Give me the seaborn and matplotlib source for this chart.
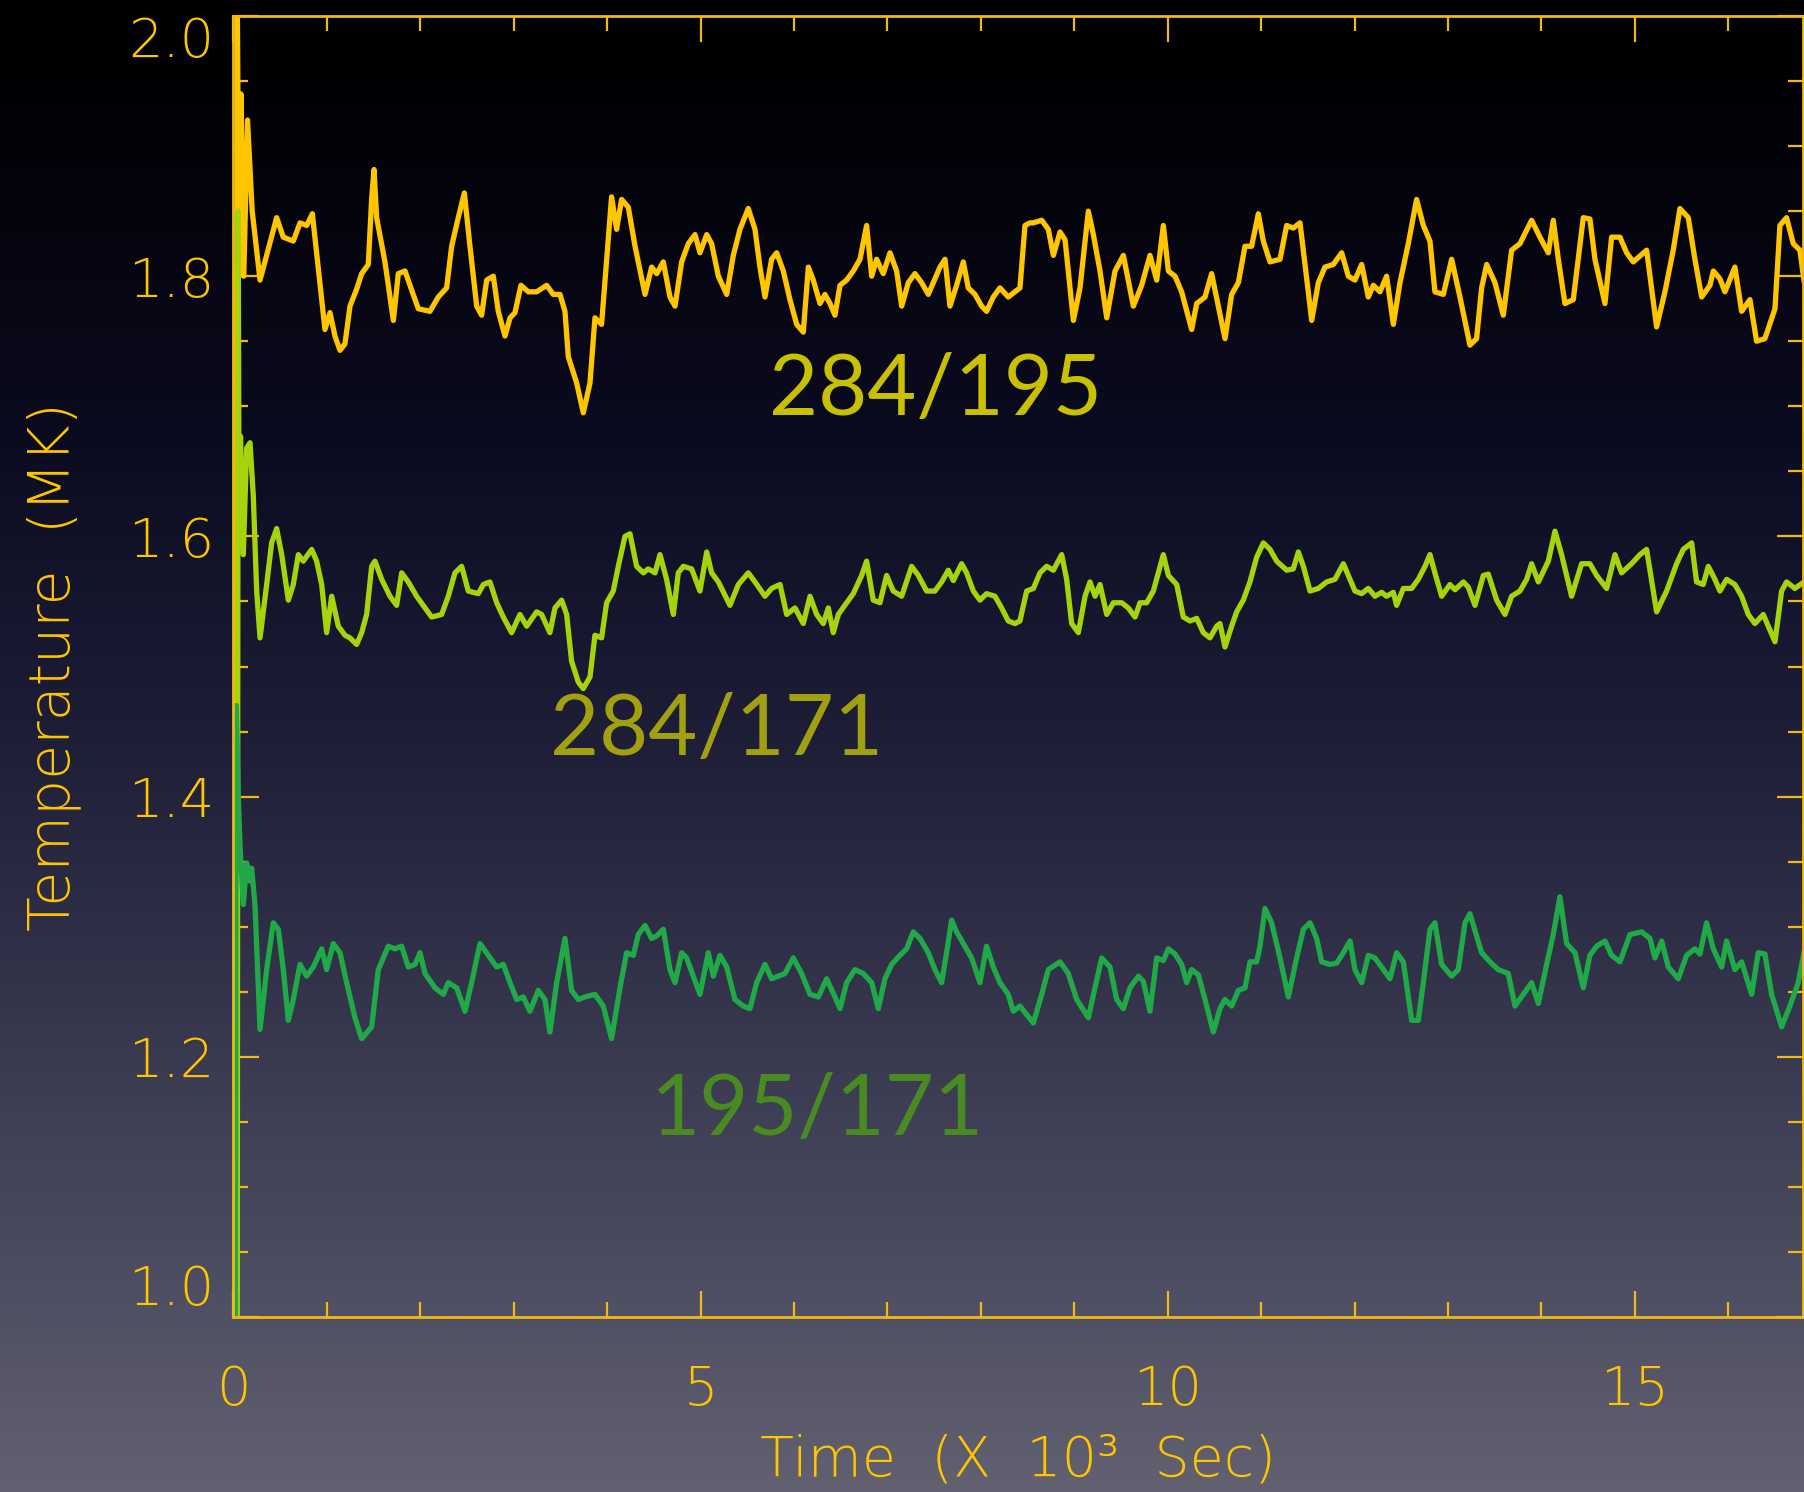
import numpy as np
import pandas as pd
import matplotlib
matplotlib.use("Agg")
import matplotlib.pyplot as plt
import seaborn as sns
from matplotlib.colors import LinearSegmentedColormap
from matplotlib.ticker import MultipleLocator

# ---------------- data ----------------
t_284_195 = [0.03, 0.04, 0.06, 0.08, 0.11, 0.15, 0.2, 0.284, 0.462, 0.533, 0.64, 0.712, 0.783, 0.844,
             0.979, 1.033, 1.086, 1.14, 1.193, 1.247, 1.318, 1.372, 1.443, 1.479, 1.504, 1.532, 1.621,
             1.711, 1.764, 1.836, 1.889, 1.978, 2.103, 2.192, 2.281, 2.335, 2.406, 2.471, 2.531, 2.603,
             2.656, 2.71, 2.781, 2.834, 2.906, 2.96, 3.013, 3.077, 3.156, 3.245, 3.352, 3.423, 3.495,
             3.548, 3.584, 3.673, 3.744, 3.816, 3.869, 3.94, 3.994, 4.047, 4.101, 4.154, 4.226,
             4.298, 4.405, 4.476, 4.53, 4.601, 4.672, 4.726, 4.797, 4.868, 4.94, 4.993, 5.065, 5.118,
             5.19, 5.279, 5.35, 5.421, 5.51, 5.582, 5.635, 5.689, 5.76, 5.814, 5.885, 5.956, 6.028,
             6.099, 6.153, 6.206, 6.278, 6.331, 6.385, 6.438, 6.492, 6.563, 6.634, 6.706, 6.777, 6.831,
             6.884, 6.955, 7.027, 7.098, 7.152, 7.223, 7.294, 7.366, 7.437, 7.491, 7.562, 7.616, 7.669,
             7.74, 7.812, 7.865, 7.937, 8.008, 8.061, 8.133, 8.204, 8.293, 8.365, 8.418, 8.472, 8.525,
             8.562, 8.651, 8.722, 8.776, 8.847, 8.901, 8.99, 9.061, 9.15, 9.204, 9.275, 9.347, 9.436,
             9.525, 9.632, 9.721, 9.81, 9.882, 9.953, 10.007, 10.078, 10.149, 10.256, 10.31, 10.399,
             10.47, 10.542, 10.613, 10.684, 10.756, 10.827, 10.898, 10.97, 11.023, 11.095, 11.202,
             11.273, 11.344, 11.416, 11.469, 11.541, 11.612, 11.683, 11.772, 11.862, 11.933, 12.004,
             12.076, 12.147, 12.201, 12.272, 12.343, 12.415, 12.486, 12.575, 12.664, 12.736, 12.807,
             12.86, 12.95, 13.039, 13.128, 13.235, 13.306, 13.36, 13.414, 13.503, 13.592, 13.681,
             13.77, 13.895, 13.984, 14.074, 14.127, 14.181, 14.252, 14.341, 14.448, 14.519, 14.573,
             14.68, 14.751, 14.841, 14.912, 14.983, 15.126, 15.233, 15.322, 15.411, 15.483, 15.572,
             15.643, 15.715, 15.804, 15.84, 15.911, 15.964, 16.071, 16.143, 16.232, 16.303, 16.392,
             16.5, 16.553, 16.624, 16.696, 16.767, 16.81]
v_284_195 = [1.0, 2.02, 1.80, 1.94, 1.80, 1.92, 1.85, 1.797, 1.845, 1.83, 1.827, 1.841, 1.839, 1.848,
             1.759, 1.772, 1.754, 1.743, 1.748, 1.777, 1.79, 1.802, 1.809, 1.86, 1.882, 1.845, 1.811,
             1.766, 1.802, 1.804, 1.793, 1.775, 1.773, 1.784, 1.791, 1.823, 1.845, 1.864, 1.823, 1.777,
             1.770, 1.797, 1.80, 1.773, 1.754, 1.768, 1.772, 1.793, 1.788, 1.788, 1.793, 1.786, 1.786,
             1.773, 1.738, 1.718, 1.695, 1.718, 1.768, 1.763, 1.813, 1.861, 1.836, 1.859, 1.853,
             1.823, 1.786, 1.807, 1.802, 1.811, 1.784, 1.777, 1.811, 1.825, 1.832, 1.818, 1.832, 1.825,
             1.80, 1.786, 1.816, 1.836, 1.852, 1.836, 1.807, 1.784, 1.813, 1.818, 1.804, 1.782, 1.763,
             1.757, 1.807, 1.797, 1.779, 1.786, 1.779, 1.77, 1.793, 1.797, 1.804, 1.813, 1.839, 1.80,
             1.813, 1.802, 1.818, 1.804, 1.777, 1.795, 1.802, 1.795, 1.786, 1.795, 1.807, 1.813, 1.777,
             1.793, 1.811, 1.791, 1.786, 1.777, 1.773, 1.784, 1.791, 1.784, 1.788, 1.791, 1.839, 1.841,
             1.841, 1.843, 1.836, 1.816, 1.834, 1.828, 1.766, 1.791, 1.85, 1.832, 1.804, 1.768, 1.804,
             1.816, 1.777, 1.793, 1.816, 1.797, 1.839, 1.804, 1.80, 1.788, 1.759, 1.779, 1.784,
             1.802, 1.777, 1.752, 1.786, 1.795, 1.823, 1.823, 1.848, 1.827, 1.811, 1.813,
             1.839, 1.837, 1.841, 1.809, 1.766, 1.795, 1.807, 1.809, 1.818, 1.80, 1.797,
             1.809, 1.784, 1.793, 1.788, 1.80, 1.763, 1.795, 1.825, 1.859, 1.839, 1.827,
             1.788, 1.786, 1.813, 1.784, 1.747, 1.752, 1.791, 1.809, 1.795, 1.770, 1.820,
             1.825, 1.843, 1.83, 1.818, 1.843, 1.813, 1.779, 1.782, 1.845, 1.844, 1.813,
             1.779, 1.83, 1.83, 1.818, 1.811, 1.820, 1.761, 1.788, 1.820, 1.852, 1.845,
             1.813, 1.784, 1.793, 1.804, 1.798, 1.788, 1.807, 1.773, 1.782, 1.75, 1.752,
             1.775, 1.839, 1.845, 1.825, 1.820, 1.797]

t_284_171 = [0.04, 0.05, 0.06, 0.075, 0.105, 0.141, 0.177, 0.212, 0.248, 0.284, 0.355, 0.408, 0.462,
             0.516, 0.587, 0.64, 0.694, 0.747, 0.837, 0.89, 0.944, 0.997, 1.051, 1.122, 1.193, 1.247,
             1.318, 1.372, 1.425, 1.479, 1.514, 1.586, 1.675, 1.746, 1.8, 1.871, 1.96, 2.05, 2.121,
             2.228, 2.299, 2.371, 2.442, 2.513, 2.62, 2.674, 2.745, 2.817, 2.888, 2.977, 3.066, 3.138,
             3.245, 3.298, 3.387, 3.441, 3.512, 3.566, 3.619, 3.691, 3.744, 3.816, 3.869, 3.94, 3.994,
             4.065, 4.119, 4.19, 4.244, 4.315, 4.387, 4.44, 4.512, 4.565, 4.636, 4.708, 4.761, 4.815,
             4.904, 4.993, 5.065, 5.118, 5.19, 5.314, 5.404, 5.51, 5.582, 5.689, 5.76, 5.85, 5.921,
             6.01, 6.099, 6.171, 6.242, 6.313, 6.367, 6.42, 6.474, 6.563, 6.634, 6.724, 6.777, 6.848,
             6.92, 6.991, 7.062, 7.152, 7.259, 7.33, 7.419, 7.508, 7.58, 7.651, 7.705, 7.794, 7.847,
             7.919, 7.99, 8.061, 8.151, 8.222, 8.293, 8.365, 8.418, 8.49, 8.562, 8.633, 8.704, 8.776,
             8.865, 8.918, 8.972, 9.043, 9.115, 9.168, 9.222, 9.275, 9.347, 9.418, 9.507, 9.578, 9.65,
             9.703, 9.775, 9.846, 9.9, 9.953, 10.007, 10.096, 10.167, 10.239, 10.31, 10.381, 10.452,
             10.524, 10.559, 10.613, 10.684, 10.738, 10.809, 10.88, 10.952, 11.023, 11.095, 11.166,
             11.273, 11.344, 11.398, 11.452, 11.523, 11.612, 11.701, 11.79, 11.88, 11.933, 12.004,
             12.076, 12.147, 12.218, 12.29, 12.343, 12.415, 12.45, 12.522, 12.611, 12.682, 12.754,
             12.807, 12.86, 12.932, 13.021, 13.075, 13.164, 13.217, 13.289, 13.378, 13.431, 13.521,
             13.61, 13.681, 13.77, 13.842, 13.895, 13.967, 14.074, 14.145, 14.216, 14.323, 14.43,
             14.519, 14.591, 14.698, 14.787, 14.858, 14.965, 15.055, 15.126, 15.233, 15.34, 15.447,
             15.518, 15.608, 15.661, 15.732, 15.786, 15.857, 15.911, 15.982, 16.071, 16.143, 16.214,
             16.285, 16.375, 16.428, 16.5, 16.571, 16.624, 16.713, 16.81]
v_284_171 = [1.0, 1.85, 1.60, 1.677, 1.586, 1.668, 1.672, 1.631, 1.558, 1.522, 1.563, 1.595, 1.606,
             1.586, 1.551, 1.563, 1.586, 1.581, 1.59, 1.581, 1.563, 1.526, 1.554, 1.531, 1.524, 1.522,
             1.517, 1.526, 1.54, 1.577, 1.581, 1.567, 1.554, 1.547, 1.572, 1.565, 1.554, 1.545, 1.538,
             1.54, 1.554, 1.572, 1.577, 1.558, 1.556, 1.563, 1.565, 1.549, 1.538, 1.526, 1.54, 1.531,
             1.542, 1.540, 1.526, 1.545, 1.551, 1.54, 1.504, 1.488, 1.483, 1.492, 1.524, 1.522, 1.549,
             1.558, 1.577, 1.60, 1.602, 1.577, 1.572, 1.575, 1.572, 1.586, 1.567, 1.54, 1.572, 1.577,
             1.575, 1.558, 1.588, 1.572, 1.565, 1.547, 1.563, 1.572, 1.565, 1.554, 1.56, 1.563, 1.54,
             1.545, 1.533, 1.554, 1.54, 1.533, 1.545, 1.526, 1.54, 1.549, 1.556, 1.57, 1.581, 1.551,
             1.549, 1.57, 1.558, 1.554, 1.577, 1.57, 1.558, 1.558, 1.565, 1.574, 1.566, 1.579, 1.572,
             1.558, 1.551, 1.556, 1.554, 1.545, 1.535, 1.533, 1.535, 1.558, 1.56, 1.572, 1.577, 1.574,
             1.586, 1.567, 1.533, 1.526, 1.554, 1.565, 1.554, 1.563, 1.54, 1.549, 1.549, 1.545, 1.538,
             1.549, 1.549, 1.558, 1.572, 1.586, 1.57, 1.563, 1.538, 1.535, 1.537, 1.526, 1.522,
             1.531, 1.533, 1.515, 1.531, 1.542, 1.551, 1.565, 1.584, 1.595, 1.59, 1.581,
             1.574, 1.575, 1.588, 1.577, 1.558, 1.56, 1.565, 1.567, 1.579, 1.57, 1.558,
             1.556, 1.56, 1.554, 1.557, 1.554, 1.557, 1.547, 1.56, 1.56, 1.567, 1.577,
             1.586, 1.572, 1.554, 1.563, 1.559, 1.565, 1.561, 1.547, 1.57, 1.571, 1.551,
             1.54, 1.554, 1.558, 1.567, 1.579, 1.565, 1.581, 1.604, 1.586, 1.554, 1.579,
             1.579, 1.57, 1.56, 1.586, 1.572, 1.579, 1.586, 1.59, 1.542, 1.558, 1.579,
             1.59, 1.595, 1.565, 1.563, 1.577, 1.567, 1.558, 1.567, 1.563, 1.554, 1.54,
             1.533, 1.54, 1.531, 1.519, 1.558, 1.565, 1.56, 1.565]

t_195_171 = [0.02, 0.03, 0.052, 0.07, 0.105, 0.141, 0.177, 0.194, 0.23, 0.284, 0.355, 0.426, 0.48,
             0.533, 0.587, 0.64, 0.712, 0.783, 0.854, 0.944, 0.997, 1.068, 1.14, 1.211, 1.3, 1.372,
             1.479, 1.55, 1.657, 1.728, 1.8, 1.871, 1.943, 1.996, 2.05, 2.157, 2.246, 2.299, 2.389,
             2.478, 2.549, 2.638, 2.727, 2.817, 2.888, 2.96, 3.031, 3.102, 3.173, 3.263, 3.334, 3.387,
             3.459, 3.548, 3.619, 3.691, 3.762, 3.869, 3.958, 4.047, 4.137, 4.208, 4.28, 4.333, 4.405,
             4.476, 4.53, 4.601, 4.672, 4.726, 4.797, 4.85, 4.922, 4.993, 5.082, 5.136, 5.207, 5.279,
             5.368, 5.457, 5.528, 5.6, 5.689, 5.76, 5.832, 5.903, 5.992, 6.081, 6.171, 6.26, 6.349,
             6.438, 6.492, 6.563, 6.652, 6.741, 6.831, 6.902, 6.973, 7.045, 7.134, 7.205, 7.276, 7.348,
             7.437, 7.508, 7.58, 7.633, 7.687, 7.74, 7.812, 7.901, 7.99, 8.061, 8.133, 8.204, 8.293,
             8.347, 8.418, 8.562, 8.651, 8.722, 8.847, 8.936, 9.026, 9.15, 9.222, 9.293, 9.382, 9.454,
             9.525, 9.596, 9.686, 9.739, 9.81, 9.882, 9.953, 10.007, 10.078, 10.149, 10.203, 10.256,
             10.328, 10.399, 10.488, 10.559, 10.613, 10.684, 10.756, 10.827, 10.881, 10.952, 10.988,
             11.041, 11.112, 11.202, 11.291, 11.38, 11.452, 11.523, 11.594, 11.648, 11.737, 11.808,
             11.88, 11.951, 12.004, 12.076, 12.147, 12.218, 12.308, 12.379, 12.45, 12.522, 12.611,
             12.682, 12.736, 12.807, 12.86, 12.932, 13.039, 13.11, 13.182, 13.235, 13.36, 13.449,
             13.538, 13.645, 13.717, 13.806, 13.895, 13.967, 14.056, 14.127, 14.198, 14.27, 14.359,
             14.448, 14.519, 14.591, 14.68, 14.751, 14.841, 14.948, 15.072, 15.162, 15.215, 15.287,
             15.358, 15.465, 15.554, 15.643, 15.697, 15.768, 15.84, 15.929, 15.982, 16.071, 16.143,
             16.25, 16.321, 16.392, 16.464, 16.571, 16.66, 16.749, 16.81]
v_195_171 = [1.0, 1.47, 1.40, 1.362, 1.317, 1.349, 1.335, 1.345, 1.317, 1.221, 1.267, 1.303, 1.298,
             1.267, 1.228, 1.244, 1.271, 1.262, 1.269, 1.283, 1.267, 1.287, 1.28, 1.257, 1.23, 1.214,
             1.223, 1.267, 1.285, 1.283, 1.285, 1.269, 1.271, 1.28, 1.264, 1.253, 1.248, 1.257, 1.253,
             1.235, 1.257, 1.287, 1.278, 1.269, 1.271, 1.257, 1.244, 1.246, 1.235, 1.251, 1.244, 1.219,
             1.257, 1.291, 1.251, 1.244, 1.246, 1.248, 1.239, 1.214, 1.253, 1.28, 1.278, 1.294, 1.301,
             1.291, 1.293, 1.298, 1.267, 1.257, 1.28, 1.276, 1.262, 1.248, 1.28, 1.262, 1.278, 1.269,
             1.244, 1.239, 1.237, 1.257, 1.271, 1.26, 1.262, 1.264, 1.276, 1.264, 1.248, 1.246, 1.26,
             1.246, 1.237, 1.257, 1.267, 1.264, 1.257, 1.237, 1.26, 1.271, 1.278, 1.283, 1.296, 1.291,
             1.28, 1.267, 1.257, 1.28, 1.305, 1.296, 1.287, 1.276, 1.257, 1.285, 1.269, 1.257, 1.248,
             1.235, 1.239, 1.226, 1.248, 1.267, 1.273, 1.264, 1.244, 1.23, 1.253, 1.276, 1.269, 1.244,
             1.237, 1.253, 1.262, 1.258, 1.235, 1.276, 1.274, 1.283, 1.279, 1.271, 1.257, 1.267,
             1.263, 1.244, 1.219, 1.237, 1.244, 1.239, 1.251, 1.253, 1.273, 1.273, 1.285,
             1.314, 1.303, 1.276, 1.246, 1.276, 1.298, 1.303, 1.291, 1.273, 1.271, 1.272,
             1.28, 1.289, 1.267, 1.257, 1.278, 1.276, 1.267, 1.26, 1.28, 1.273, 1.228,
             1.228, 1.257, 1.298, 1.303, 1.271, 1.262, 1.267, 1.303, 1.31, 1.28, 1.273,
             1.267, 1.264, 1.239, 1.248, 1.257, 1.241, 1.271, 1.294, 1.323, 1.287, 1.28,
             1.253, 1.278, 1.285, 1.289, 1.278, 1.273, 1.294, 1.296, 1.291, 1.276, 1.289,
             1.269, 1.26, 1.278, 1.283, 1.279, 1.303, 1.283, 1.269, 1.289, 1.267, 1.273,
             1.248, 1.28, 1.279, 1.248, 1.223, 1.239, 1.257, 1.28]

series_names = ["284/195", "284/171", "195/171"]
line_colors = ["#FFC600", "#A6D40C", "#1FAA47"]
label_colors = ["#C8C000", "#A0A010", "#4A8A22"]
label_pos = [(5.73, 1.693), (3.39, 1.432), (4.46, 1.140)]
x_ticks = [0, 5, 10, 15]
y_ticks = [1.0, 1.2, 1.4, 1.6, 1.8, 2.0]

frames = []
for name, t, v in zip(series_names, [t_284_195, t_284_171, t_195_171],
                      [v_284_195, v_284_171, v_195_171]):
    frames.append(pd.DataFrame({"Time": t, "Temp": v, "series": name}))
df = pd.concat(frames, ignore_index=True)

# ---------------- figure ----------------
W, H = 1804, 1492
fig = plt.figure(figsize=(W / 100, H / 100), dpi=100)

# background gradient
bg = fig.add_axes([0, 0, 1, 1], zorder=0)
cmap = LinearSegmentedColormap.from_list(
    "bg", [(0.0, (0.0, 0.0, 0.0)), (0.10, (0.01, 0.01, 0.035)), (0.30, (0.045, 0.045, 0.13)),
           (0.50, (0.12, 0.12, 0.22)), (0.70, (0.22, 0.22, 0.31)), (0.85, (0.30, 0.30, 0.38)),
           (1.0, (0.38, 0.38, 0.44))])
grad = np.linspace(0, 1, 512).reshape(-1, 1)
bg.imshow(grad, aspect="auto", cmap=cmap, extent=[0, 1, 0, 1], origin="upper")
bg.set_axis_off()

gold = "#F0B818"
ax = fig.add_axes([233.5 / W, 1 - 1317 / H, (1803 - 233.5) / W, (1317 - 16) / H], zorder=1)
ax.set_facecolor("none")

sns.lineplot(data=df, x="Time", y="Temp", hue="series", palette=dict(zip(series_names, line_colors)),
             hue_order=series_names, sort=False, estimator=None, linewidth=3.8, legend=False, ax=ax)

ax.set_xlim(0, 16.80)
ax.set_ylim(1.0, 2.0)
ax.set_xticks(x_ticks)
ax.set_yticks(y_ticks)
ax.set_yticklabels([f"{y:.1f}" for y in y_ticks])
ax.xaxis.set_minor_locator(MultipleLocator(1))
ax.yaxis.set_minor_locator(MultipleLocator(0.05))
for sp in ax.spines.values():
    sp.set_color(gold)
    sp.set_linewidth(2)
ax.tick_params(which="both", direction="in", color=gold, top=True, right=True,
               labelcolor="#FFC600", width=1.6)
ax.tick_params(which="major", length=19)
ax.tick_params(which="minor", length=11)
ax.tick_params(axis="x", which="major", pad=34, labelsize=39)
ax.tick_params(axis="y", which="major", pad=14, labelsize=39)
for lab in ax.get_xticklabels() + ax.get_yticklabels():
    lab.set_fontfamily(["DejaVu Sans"])
    lab.set_fontweight("light")
ylabs = ax.get_yticklabels()
ylabs[-1].set_verticalalignment("top")
ylabs[0].set_verticalalignment("bottom")

ax.set_xlabel("Time  (X  10³  Sec)", color="#FFC600", fontsize=40, labelpad=12,
              family=["DejaVu Sans"], fontweight="light")
ax.set_ylabel("Temperature  (MK)", color="#FFC600", fontsize=41, labelpad=34,
              family=["DejaVu Sans"], fontweight="light")

for name, col, (tx, ty) in zip(series_names, label_colors, label_pos):
    ax.text(tx, ty, name, color=col, fontsize=61, family=["Lato", "DejaVu Sans"],
            ha="left", va="baseline")

fig.savefig("out.png", dpi=100)
